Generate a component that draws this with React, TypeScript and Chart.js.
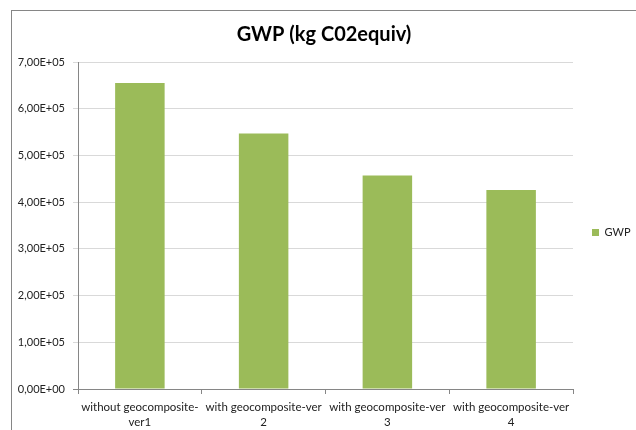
import React, { useEffect, useRef } from "react";
import { Chart, registerables } from "chart.js";

Chart.register(...registerables);

const categories: string[][] = [
  ["without geocomposite-", "ver1"],
  ["with geocomposite-ver", "2"],
  ["with geocomposite-ver", "3"],
  ["with geocomposite-ver", "4"],
];
const seriesName = "GWP";
const gwpValues = [655000, 547000, 457000, 426000];
const yTickLabels = [
  "0,00E+00",
  "1,00E+05",
  "2,00E+05",
  "3,00E+05",
  "4,00E+05",
  "5,00E+05",
  "6,00E+05",
  "7,00E+05",
];
const titleText = "GWP (kg C02equiv)";

const FONT = "Lato, 'Open Sans', 'DejaVu Sans', sans-serif";

const framePlugin = {
  id: "frame",
  beforeDraw(chart: any) {
    const ctx = chart.ctx;
    ctx.save();
    ctx.fillStyle = "#ffffff";
    ctx.fillRect(0, 0, chart.width, chart.height);
    ctx.strokeStyle = "#868686";
    ctx.lineWidth = 1;
    ctx.strokeRect(11.5, 10.5, 800, 800);
    ctx.restore();
  },
};

export default function App() {
  const ref = useRef<HTMLCanvasElement | null>(null);

  useEffect(() => {
    if (!ref.current) return;
    const chart = new Chart(ref.current, {
      type: "bar",
      data: {
        labels: categories,
        datasets: [
          {
            label: seriesName,
            data: gwpValues,
            backgroundColor: "#9BBB59",
            borderWidth: 0,
            barPercentage: 0.4,
            categoryPercentage: 1,
          },
        ],
      },
      options: {
        animation: false,
        responsive: false,
        maintainAspectRatio: false,
        layout: { padding: { left: 12, top: 10, right: 0, bottom: 0 } },
        plugins: {
          title: {
            display: true,
            text: titleText,
            color: "#000000",
            font: { family: FONT, size: 20, weight: "bold", lineHeight: 1.2 },
            padding: { top: 13, bottom: 15 },
          },
          legend: {
            display: true,
            position: "right",
            fullSize: false,
            maxWidth: 63,
            title: {
              display: true,
              text: " ",
              font: { family: FONT, size: 10, lineHeight: 1.2 },
              padding: { top: 1, bottom: 1 },
            },
            labels: {
              boxWidth: 7,
              boxHeight: 7,
              padding: 19,
              color: "#222222",
              font: { family: FONT, size: 11 },
            },
          },
          tooltip: { enabled: false },
        },
        scales: {
          x: {
            afterFit: (scale: any) => {
              scale.height = 41;
            },
            grid: {
              drawOnChartArea: false,
              drawTicks: true,
              tickLength: 5,
              color: "#868686",
              offset: true,
            },
            border: { display: true, color: "#868686" },
            ticks: {
              autoSkip: false,
              maxRotation: 0,
              minRotation: 0,
              padding: 6,
              color: "#222222",
              font: { family: FONT, size: 11.5, lineHeight: 1.3 },
            },
          },
          y: {
            min: 0,
            max: 700000,
            afterFit: (scale: any) => {
              scale.width = 66;
            },
            grid: {
              color: (c: any) =>
                c.tick && c.tick.value === 0 ? "#868686" : "#d9d9d9",
              tickLength: 5,
            },
            border: { display: true, color: "#868686" },
            ticks: {
              stepSize: 100000,
              padding: 8,
              color: "#222222",
              font: { family: FONT, size: 11 },
              callback: (_v: any, i: number) => yTickLabels[i],
            },
          },
        },
      },
      plugins: [framePlugin],
    });
    return () => chart.destroy();
  }, []);

  return (
    <div
      style={{
        position: "fixed",
        left: 0,
        top: 0,
        width: 636,
        height: 430,
        background: "#fff",
      }}
    >
      <canvas ref={ref} width={636} height={430} style={{ width: 636, height: 430 }} />
    </div>
  );
}
